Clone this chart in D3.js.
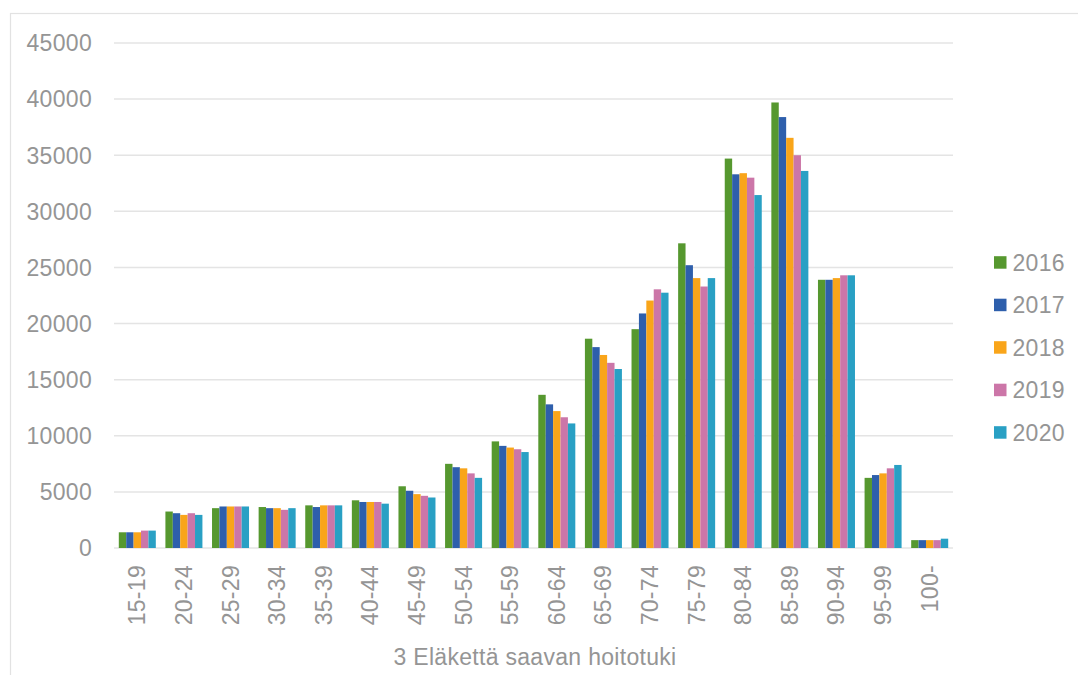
<!DOCTYPE html>
<html><head><meta charset="utf-8">
<script src="https://cdn.jsdelivr.net/npm/d3@7"></script>
<style>body{margin:0;background:#fff}svg{display:block}text{font-family:"Liberation Sans",Arial,sans-serif;fill:#959595;letter-spacing:0.3px}</style>
</head><body><svg id="c" width="1078" height="675"></svg>
<script>
const categories = ["15-19","20-24","25-29","30-34","35-39","40-44","45-49","50-54","55-59","60-64","65-69","70-74","75-79","80-84","85-89","90-94","95-99","100-"];
const years = ["2016","2017","2018","2019","2020"];
const v2016 = [1400,3250,3550,3650,3800,4250,5500,7500,9500,13650,18650,19500,27150,34700,39700,23900,6250,700];
const v2017 = [1400,3100,3700,3550,3650,4100,5100,7200,9100,12800,17900,20900,25200,33300,38400,23900,6500,700];
const v2018 = [1400,2950,3700,3550,3800,4100,4800,7100,8950,12200,17200,22050,24050,33400,36550,24050,6650,700];
const v2019 = [1550,3100,3700,3400,3800,4100,4650,6650,8800,11650,16500,23050,23300,33000,35000,24300,7100,700];
const v2020 = [1550,2950,3700,3550,3800,3950,4500,6250,8550,11100,15950,22750,24050,31450,33600,24300,7400,830];
const yTicks = [0,5000,10000,15000,20000,25000,30000,35000,40000,45000];
const colors = ["#56982f","#2e5fac","#f9a51a","#cc76a8","#29a0c4"];
const axisTitle = "3 Eläkettä saavan hoitotuki";

(function(){
const series = [v2016,v2017,v2018,v2019,v2020];
const svg = d3.select("#c");
const L = 114, R = 953, T = 43, B = 548;
const fs = 23;

svg.append("rect").attr("x",10.5).attr("y",13.5).attr("width",1100).attr("height",700)
  .attr("fill","none").attr("stroke","#e2e2e2").attr("stroke-width",1.2);

const x = d3.scaleBand().domain(categories).range([L,R]).paddingInner(0.206).paddingOuter(0.103);
const xs = d3.scaleBand().domain(years).range([0,x.bandwidth()]);
const y = d3.scaleLinear().domain([0,45000]).range([B,T]);

svg.append("g").selectAll("line").data(yTicks).join("line")
  .attr("x1",L).attr("x2",R).attr("y1",d=>y(d)).attr("y2",d=>y(d))
  .attr("stroke","#e4e4e4").attr("stroke-width",1.5);

svg.append("g").selectAll("text").data(yTicks).join("text")
  .attr("x",92).attr("y",d=>y(d)).attr("dy","0.36em").attr("text-anchor","end")
  .attr("font-size",fs).text(d=>d);

const g = svg.append("g");
series.forEach((vals,si)=>{
  g.selectAll(null).data(vals).join("rect")
    .attr("x",(d,i)=>x(categories[i])+xs(years[si]))
    .attr("width",xs.bandwidth())
    .attr("y",d=>y(d)).attr("height",d=>y(0)-y(d))
    .attr("fill",colors[si]);
});

svg.append("g").selectAll("text").data(categories).join("text")
  .attr("transform",d=>`translate(${x(d)+x.bandwidth()/2+8},565) rotate(-90)`)
  .attr("text-anchor","end").attr("font-size",fs).text(d=>d);

svg.append("text").attr("x",(L+R)/2+1.5).attr("y",665).attr("text-anchor","middle")
  .attr("font-size",fs).text(axisTitle);

const lg = svg.append("g");
years.forEach((yr,i)=>{
  const cy = 262.7 + i*42.5;
  lg.append("rect").attr("x",994).attr("y",cy-6.5).attr("width",12.5).attr("height",12.5).attr("fill",colors[i]);
  lg.append("text").attr("x",1012.5).attr("y",cy).attr("dy","0.36em").attr("font-size",fs).text(yr);
});
})();
</script></body></html>
